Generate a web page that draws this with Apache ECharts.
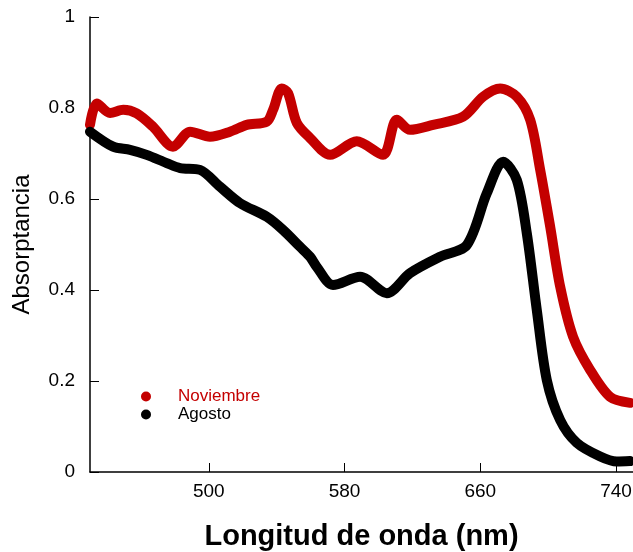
<!DOCTYPE html>
<html>
<head>
<meta charset="utf-8">
<script src="https://cdn.jsdelivr.net/npm/echarts@6/dist/echarts.min.js"></script>
<style>
  html, body { margin: 0; padding: 0; background: #fff; }
  #chart { width: 633px; height: 552px; }
</style>
</head>
<body>
<div id="chart"></div>
<script>
// wavelength (nm), absorptance
const novX = [430, 434, 441.8, 449.6, 457.5, 467.1, 478.9, 489, 500.7, 512.5, 522.4, 534.2, 537.9, 543, 546.7, 551.9, 559.7, 571.5, 587.2, 602.7, 610.8, 618.6, 632.2, 649.9, 661.7, 671.7, 681.5, 689.4, 695.3, 701.2, 707.1, 714.7, 724.8, 736.5, 748.3]
const novY = [0.763, 0.81, 0.789, 0.796, 0.788, 0.759, 0.715, 0.748, 0.737, 0.748, 0.763, 0.77, 0.796, 0.843, 0.833, 0.767, 0.734, 0.697, 0.727, 0.697, 0.774, 0.752, 0.763, 0.781, 0.825, 0.843, 0.825, 0.774, 0.664, 0.539, 0.407, 0.297, 0.224, 0.165, 0.152]
const agoX = [430, 443.6, 453.6, 463.4, 475.2, 483.1, 494.8, 506.6, 518.4, 534.2, 543.8, 553.8, 559.7, 563.6, 573.2, 589.2, 604.9, 618.6, 636.3, 652.1, 663.9, 673.5, 681.5, 687.4, 693.3, 699.2, 707.1, 716.9, 730.7, 740.5, 748.3]
const agoY = [0.748, 0.715, 0.708, 0.697, 0.679, 0.668, 0.664, 0.627, 0.591, 0.561, 0.532, 0.495, 0.473, 0.451, 0.411, 0.429, 0.393, 0.437, 0.473, 0.499, 0.613, 0.682, 0.642, 0.525, 0.356, 0.202, 0.114, 0.064, 0.034, 0.023, 0.024]
const xTicks = [500, 580, 660, 740]

const RED = '#c40000'
const FONT = 'Liberation Sans, Arial, sans-serif'

const chart = echarts.init(document.getElementById('chart'), null, { renderer: 'canvas' })

function pairs(xs, ys) {
  return xs.map((x, i) => [x, ys[i]])
}

chart.setOption({
  animation: false,
  grid: { left: 90, right: 0, top: 17, bottom: 80, outerBoundsMode: 'none' },
  legend: {
    orient: 'vertical',
    left: 141,
    top: 388,
    padding: 0,
    itemGap: 1,
    itemWidth: 10,
    itemHeight: 10,
    icon: 'circle',
    textStyle: { fontFamily: FONT, fontSize: 17, padding: [0, 0, 0, 22] },
    data: [
      { name: 'Noviembre', textStyle: { color: RED } },
      { name: 'Agosto', textStyle: { color: '#000' } },
    ],
  },
  xAxis: {
    type: 'value',
    min: 430,
    max: 750,
    name: 'Longitud de onda (nm)',
    nameLocation: 'middle',
    nameGap: 50,
    nameTextStyle: { fontFamily: FONT, fontSize: 29, fontWeight: 'bold', color: '#000' },
    axisLine: { lineStyle: { color: '#000', width: 1.5 } },
    axisTick: { inside: true, length: 9, customValues: xTicks, lineStyle: { color: '#000' } },
    axisLabel: { customValues: xTicks, margin: 10, fontFamily: FONT, fontSize: 19, color: '#000' },
    splitLine: { show: false },
  },
  yAxis: {
    type: 'value',
    min: 0,
    max: 1,
    interval: 0.2,
    name: 'Absorptancia',
    nameLocation: 'middle',
    nameGap: 56,
    nameTextStyle: { fontFamily: FONT, fontSize: 24, color: '#000' },
    axisLine: { show: true, lineStyle: { color: '#000', width: 1.5 } },
    axisTick: { show: true, inside: true, length: 9, lineStyle: { color: '#000' } },
    axisLabel: { margin: 15, fontFamily: FONT, fontSize: 19, color: '#000' },
    splitLine: { show: false },
  },
  series: [
    {
      name: 'Noviembre',
      type: 'line',
      data: pairs(novX, novY),
      smooth: 0.3,
      showSymbol: false,
      clip: false,
      color: RED,
      lineStyle: { width: 10, color: RED, cap: 'round', join: 'round' },
    },
    {
      name: 'Agosto',
      type: 'line',
      data: pairs(agoX, agoY),
      smooth: 0.3,
      showSymbol: false,
      clip: false,
      color: '#000',
      lineStyle: { width: 10, color: '#000', cap: 'round', join: 'round' },
    },
  ],
})
</script>
</body>
</html>
